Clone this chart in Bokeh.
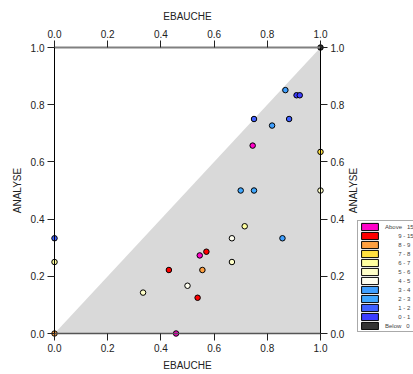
import math
import numpy as np
from bokeh.plotting import figure
from bokeh.models import (Range1d, LinearAxis, Legend, LegendItem, FixedTicker,
                          ColumnDataSource, NumeralTickFormatter, Label)
from bokeh.embed import file_html
from bokeh.resources import INLINE

# ---- data ----
categories = ["Above  15", "9 - 15", "8 - 9", "7 - 8", "6 - 7", "5 - 6",
              "4 - 5", "3 - 4", "2 - 3", "1 - 2", "0 - 1", "Below  0"]
cat_colors = ["#ff00c8", "#ff0000", "#ffa040", "#ffe040", "#ffffa0", "#ffffc8",
              "#fffff0", "#40a0ff", "#40a8ff", "#4060ff", "#3c3cff", "#333333"]

ebauche = [1.0, 0.868, 0.91, 0.922, 0.75, 0.882, 0.818, 0.745, 1.0, 0.70, 0.75, 1.0,
           0.715, 0.667, 0.857, 0.667, 0.571, 0.546, 0.43, 0.556, 0.5, 0.333, 0.538,
           0.457, 0.0, 0.0, 0.0]
analyse = [1.0, 0.851, 0.833, 0.833, 0.75, 0.75, 0.727, 0.657, 0.635, 0.50, 0.50, 0.50,
           0.375, 0.333, 0.333, 0.25, 0.286, 0.273, 0.222, 0.222, 0.167, 0.143, 0.125,
           0.0, 0.333, 0.25, 0.0]
point_cat = ["Below  0", "3 - 4", "0 - 1", "0 - 1", "1 - 2", "1 - 2", "3 - 4", "Above  15",
             "7 - 8", "2 - 3", "2 - 3", "5 - 6", "6 - 7", "4 - 5", "3 - 4", "5 - 6",
             "9 - 15", "Above  15", "9 - 15", "8 - 9", "4 - 5", "5 - 6", "9 - 15",
             "Above  15", "1 - 2", "6 - 7", "8 - 9"]
ticks = [0.0, 0.2, 0.4, 0.6, 0.8, 1.0]
lo, hi = 0.0, 1.0

color_of = dict(zip(categories, cat_colors))
src = ColumnDataSource(dict(x=ebauche, y=analyse,
                            c=[color_of[k] for k in point_cat]))

FONT = "Liberation Sans"
NB = "\u00a0"


def legend_text(lab):
    # right-align the lower bound under the end of "Above"/"Below"
    head, _, tail = lab.replace("  ", " ").partition(" ")
    if head in ("Above", "Below"):
        return head + NB * 3 + tail
    return NB * 8 + head + NB + "-" + NB + tail.replace("- ", "")


# layout (pixels): figure 413x374, data box 0..1 spans x 54..320, y 47..333
W, H = 413, 374
L, R, T, B = 54, 320, 47, 333
sx = (R - L) / (hi - lo)
sy = (B - T) / (hi - lo)
x_range = Range1d(lo - L / sx, hi + (W - R) / sx)
y_range = Range1d(lo - (H - B) / sy, hi + T / sy)

p = figure(width=W, height=H, output_backend="svg", toolbar_location=None,
           x_range=x_range, y_range=y_range, min_border=0,
           x_axis_label="EBAUCHE", y_axis_label="ANALYSE")
p.grid.visible = False
p.outline_line_color = None
p.background_fill_color = "white"
p.border_fill_color = "white"

# shaded lower-right triangle (analyse < ebauche)
p.patch([lo, hi, hi], [lo, lo, hi], fill_color="#d9d9d9", line_color=None)

p.scatter("x", "y", source=src, size=5.5, fill_color="c", line_color="black",
          line_width=1)

p.add_layout(LinearAxis(axis_label="EBAUCHE"), "above")
p.add_layout(LinearAxis(axis_label=""), "right")

p.below[0].fixed_location = lo
p.above[0].fixed_location = hi
p.left[0].fixed_location = lo
p.right[0].fixed_location = hi

for ax in p.axis:
    ax.bounds = (lo, hi)
    ax.ticker = FixedTicker(ticks=ticks)
    ax.formatter = NumeralTickFormatter(format="0.0")
    ax.minor_tick_line_color = None
    ax.major_tick_out = 7
    ax.major_tick_in = 0
    ax.major_label_standoff = 3
    ax.axis_label_standoff = 5
    ax.major_label_text_font = FONT
    ax.major_label_text_font_size = "10px"
    ax.major_label_text_color = "#222222"
    ax.axis_label_text_font = FONT
    ax.axis_label_text_font_size = "10px"
    ax.axis_label_text_font_style = "normal"
    ax.axis_label_text_color = "#222222"
    ax.major_tick_line_color = "#222222"

p.above[0].axis_line_color = "#808080"
p.above[0].axis_line_width = 2
p.below[0].axis_line_color = "#555555"
p.below[0].axis_line_width = 1.5
p.left[0].axis_line_color = "black"
p.right[0].axis_line_color = "black"

# right-hand axis title, reading bottom-to-top like the left one
p.add_layout(Label(x=353, y=H - (T + B) / 2, x_units="screen", y_units="screen",
                   text="ANALYSE", angle=math.pi / 2, text_align="center",
                   text_baseline="middle", text_font=FONT, text_font_size="10px",
                   text_color="#222222"))

# legend swatches: one quad per class, with no position (nothing drawn in the plot)
n = len(categories)
nan = np.full(n, np.nan)
leg_src = ColumnDataSource(dict(l=nan, r=nan, t=nan, b=nan, color=cat_colors))
qr = p.quad(left="l", right="r", top="t", bottom="b", source=leg_src,
            fill_color="color", line_color="black", line_width=1)
items = [LegendItem(label=legend_text(lab), renderers=[qr], index=i)
         for i, lab in enumerate(categories)]
leg = Legend(items=items, location=(357, H - 332), glyph_width=21, glyph_height=9,
             label_height=9, spacing=0, padding=1, margin=0, label_standoff=5,
             label_text_font=FONT, label_text_font_size="6px",
             border_line_color="#555555", border_line_width=1.5,
             background_fill_color="white", background_fill_alpha=1)
p.add_layout(leg, "center")

open("out.html", "w").write(file_html(p, INLINE))
